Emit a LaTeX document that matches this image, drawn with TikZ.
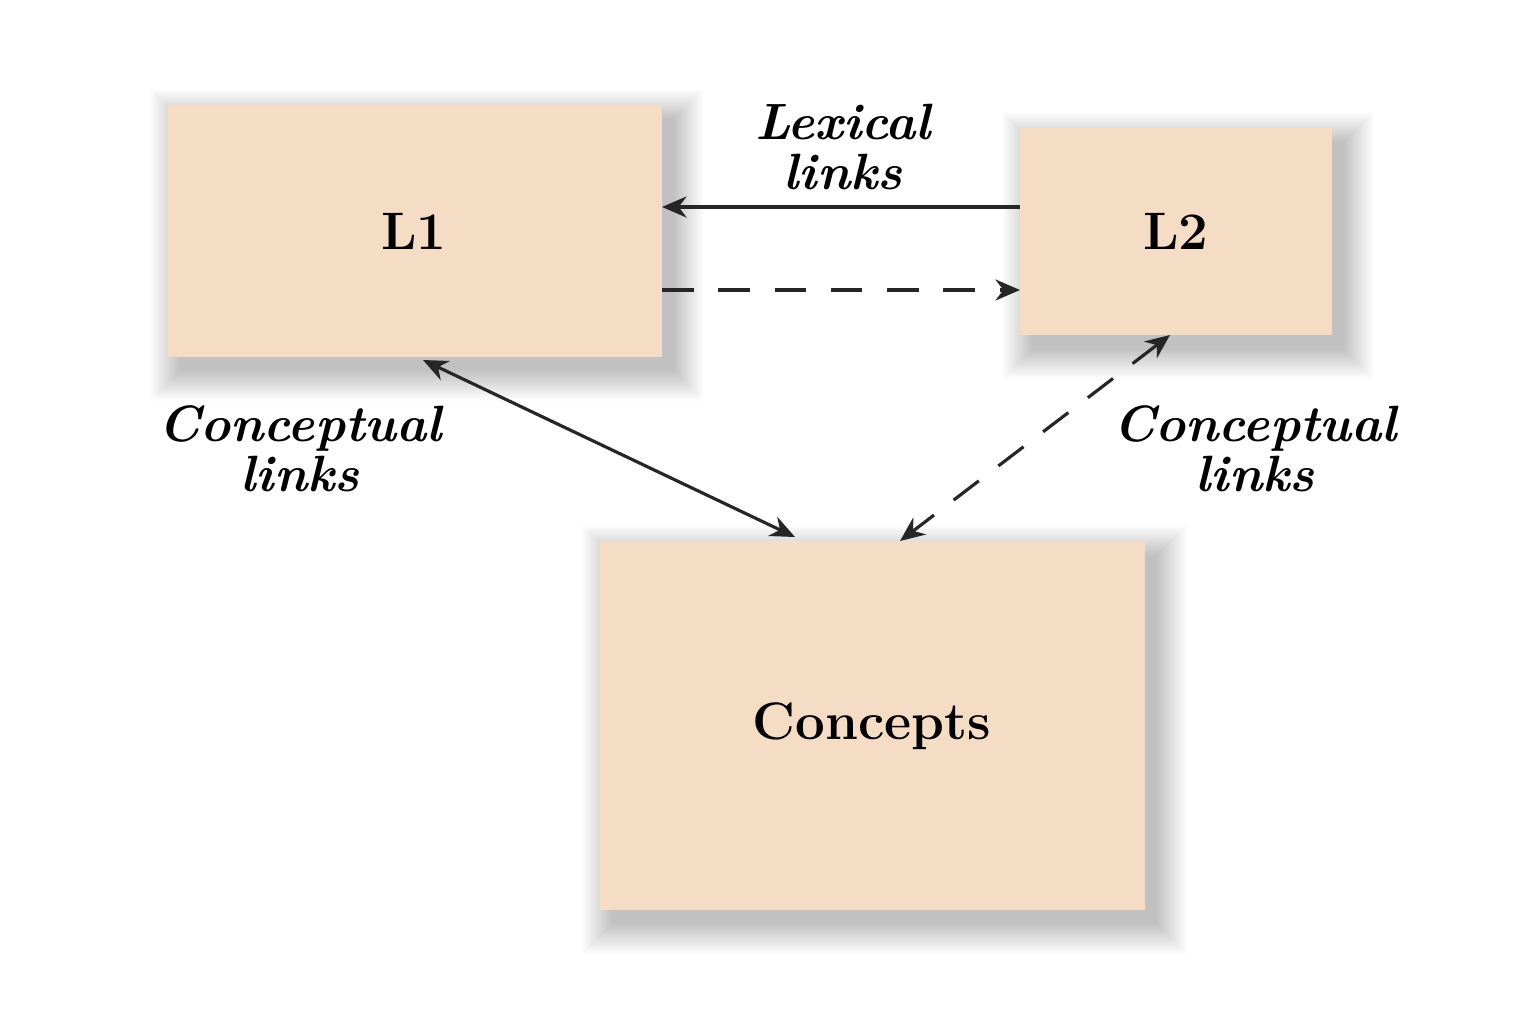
\documentclass[tikz,border=0pt]{standalone}
\usetikzlibrary{arrows.meta}
\definecolor{peach}{HTML}{F4DDC4}
\newcommand\mysoftshadow[4]{%
  \foreach \e in {30,29,...,0}{%
    \fill[black,opacity=0.007] ({#1+12-\e},{#2+14-\e}) rectangle ({#3+12+\e},{#4+14+\e});}}
\begin{document}
\begin{tikzpicture}[x=0.01cm,y=-0.01cm,
  box/.style={fill=peach,draw=none},
  boxtext/.style={font=\fontsize{15}{17}\selectfont\bfseries},
  lbl/.style={font=\fontsize{14.5}{14.3}\selectfont\bfseries\itshape,align=center},
  link/.style={line width=0.9pt,draw=black!85,{Stealth[length=7pt,width=6pt]}-{Stealth[length=7pt,width=6pt]}},
  onelink/.style={line width=0.9pt,draw=black!85,-{Stealth[length=7pt,width=6pt]}},
  dashline/.style={dash pattern=on 9pt off 7pt}]
\useasboundingbox (0,0) rectangle (1536,1024);
\fill[white] (0,0) rectangle (1536,1024);
\mysoftshadow{168}{105}{662}{357}
\mysoftshadow{1020}{128}{1332}{335}
\mysoftshadow{600}{541}{1145}{910}
\path[box] (168,105) rectangle (662,357);
\path[box] (1020,128) rectangle (1332,335);
\path[box] (600,541) rectangle (1145,910);
\node[boxtext] (l1) at (414,231) {L1};
\node[boxtext] (l2) at (1176,231) {L2};
\node[boxtext] (con) at (872,726) {Concepts};
\coordinate (l1r1) at (662,207);
\coordinate (l2l1) at (1020,207);
\coordinate (l1r2) at (662,290);
\coordinate (l2l2) at (1020,290);
\coordinate (l1b) at (423,360);
\coordinate (cont1) at (795,537);
\coordinate (l2b) at (1170,335);
\coordinate (cont2) at (900,541);
\draw[onelink] (l2l1) -- (l1r1);
\draw[onelink,dashline] (l1r2) -- (l2l2);
\draw[link] (l1b) -- (cont1);
\draw[link,dashline] (l2b) -- (cont2);
\node[lbl] (lex) at (843,147) {Lexical\\links};
\node[lbl] (cl1) at (300,449) {Conceptual\\links};
\node[lbl] (cl2) at (1255,449) {Conceptual\\links};
\end{tikzpicture}
\end{document}
